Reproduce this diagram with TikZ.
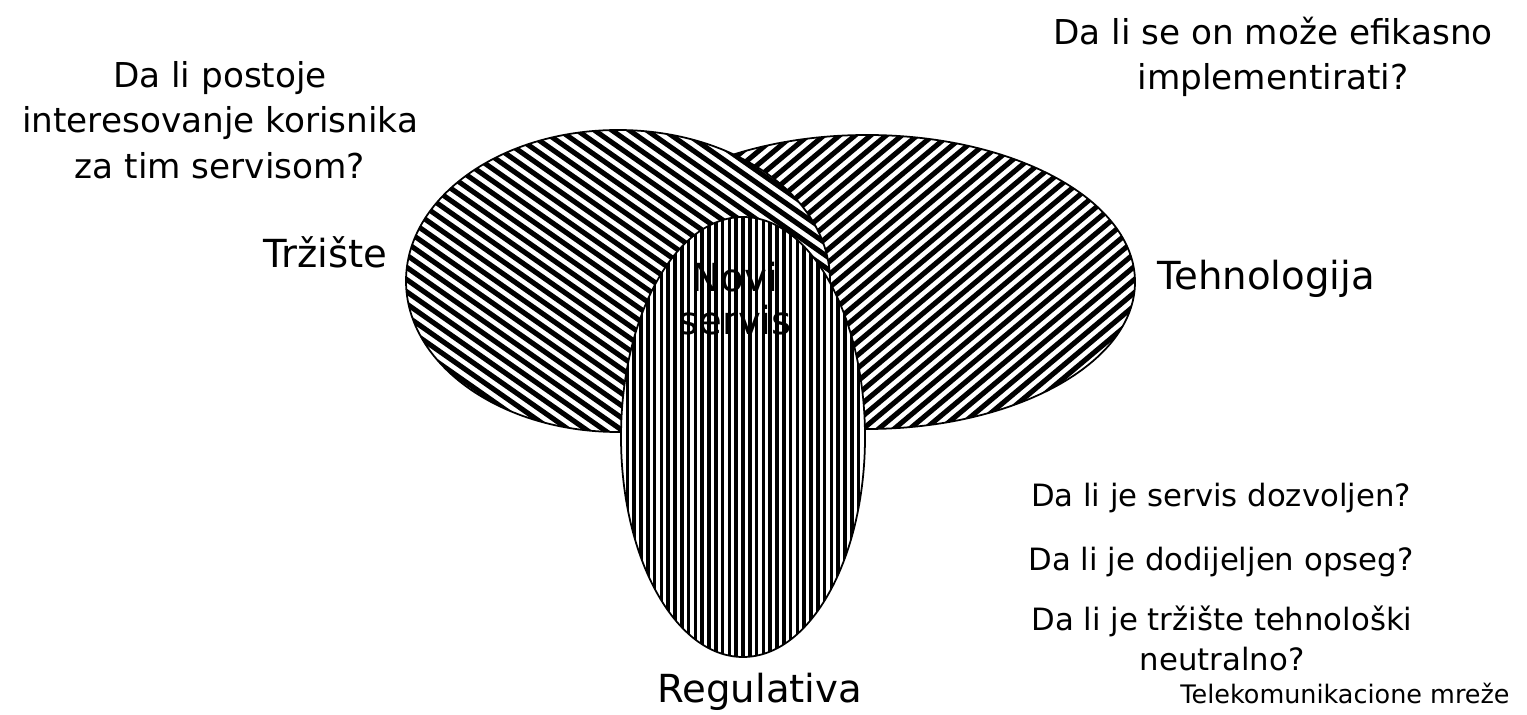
\documentclass[tikz,border=0pt]{standalone}
\usepackage{fontspec}
\setmainfont{DejaVu Sans}

\tikzset{
  stripe/.style={line width=2.9pt, black},
  vstripe/.style={line width=2.1pt, black},
  rim/.style={line width=1pt, black},
  naziv/.style={inner sep=0pt, font=\fontsize{22}{24}\selectfont},
  pitanje/.style={align=center, inner sep=0pt, font=\fontsize{19.5}{26}\selectfont},
  uslov/.style={align=center, inner sep=0pt, font=\fontsize{17.5}{22.7}\selectfont}
}

\begin{document}
\begin{tikzpicture}[x=0.02cm, y=-0.02cm]
    \useasboundingbox (0,0) rectangle (1527,715);
    \coordinate (teh) at (867,282);
    \coordinate (trz) at (618,281);
    \coordinate (reg) at (743,437);

    % Tehnologija
    \fill[white] (teh) ellipse [x radius=268, y radius=147];
    \begin{scope}
        \clip (teh) ellipse [x radius=268, y radius=147];
        \begin{scope}[shift={(teh)}, rotate=40]
            \foreach \k in {-36,...,36}
                \draw[stripe] (-400,\k*10) -- (400,\k*10);
        \end{scope}
    \end{scope}
    \draw[rim] (teh) ellipse [x radius=268, y radius=147];

    % Trziste
    \fill[white] (trz) ellipse [x radius=212, y radius=151];
    \begin{scope}
        \clip (trz) ellipse [x radius=212, y radius=151];
        \begin{scope}[shift={(trz)}, rotate=-35]
            \foreach \k in {-30,...,30}
                \draw[stripe] (-350,\k*10) -- (350,\k*10);
        \end{scope}
    \end{scope}
    \draw[rim] (trz) ellipse [x radius=212, y radius=151];

    % Regulativa
    \fill[white] (reg) ellipse [x radius=122, y radius=220];
    \begin{scope}
        \clip (reg) ellipse [x radius=122, y radius=220];
        \begin{scope}[shift={(reg)}]
            \foreach \k in {-19,...,19}
                \draw[vstripe] (\k*6.8,-240) -- (\k*6.8,240);
        \end{scope}
    \end{scope}
    \draw[rim] (reg) ellipse [x radius=122, y radius=220];

    \node[naziv, align=center, font=\fontsize{22}{24.4}\selectfont] (novi) at (735,299) {Novi\\servis};
    \node[naziv, anchor=base east] (trziste) at (388,268) {Tržište};
    \node[naziv, anchor=base west] (tehnologija) at (1157,290) {Tehnologija};
    \node[naziv, anchor=base west] (regulativa) at (657,702) {Regulativa};

    \node[pitanje] (korisnici) at (220,120) {Da li postoje\\interesovanje korisnika\\za tim servisom?};
    \node[pitanje] (efikasnost) at (1273,57) {Da li se on može efikasno\\implementirati?};

    \node[uslov, anchor=base] (dozvola) at (1221,507) {Da li je servis dozvoljen?};
    \node[uslov, anchor=base] (opseg) at (1221,570) {Da li je dodijeljen opseg?};
    \node[uslov] (neutralnost) at (1222,638) {Da li je tržište tehnološki\\neutralno?};
    \node[inner sep=0pt, anchor=base, font=\fontsize{14.5}{17}\selectfont] (naslov) at (1345,703) {Telekomunikacione mreže};
\end{tikzpicture}
\end{document}
